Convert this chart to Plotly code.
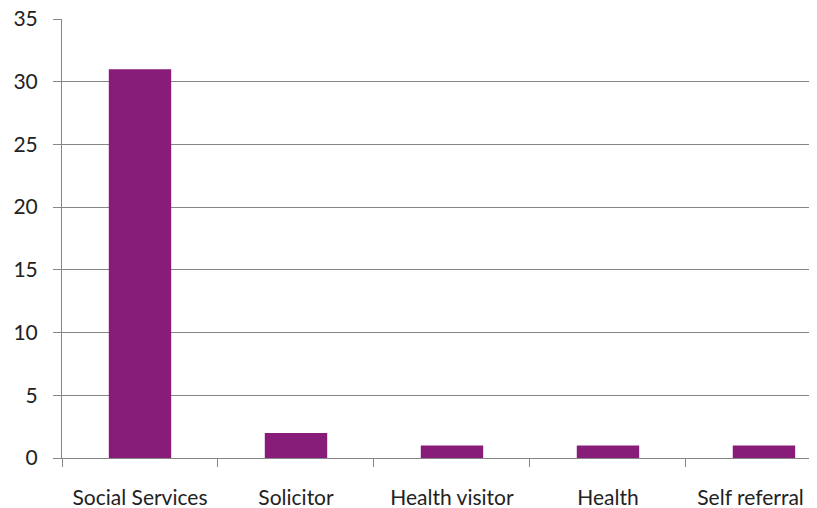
import plotly.graph_objects as go

categories = ["Social Services", "Solicitor", "Health visitor", "Health", "Self referral"]
values = [31, 2, 1, 1, 1]
# tick labels: same texts; the last is padded with no-break spaces so it stays on screen
tick_labels = ["Social Services", "Solicitor", "Health visitor", "Health", "Self referral\u00a0\u00a0\u00a0\u00a0\u00a0"]

fig = go.Figure(go.Bar(
    x=categories, y=values,
    marker=dict(color="#881C79", line=dict(width=0)),
    width=0.4,
))

axis_col = "#868686"
font = dict(family="Lato, Open Sans, sans-serif", size=21, color="#222222")

# the page body has an 8px default margin; margins compensate so the plot area
# lands where the reference has it
fig.update_layout(
    width=817, height=508,
    margin=dict(l=54, r=8, t=11, b=58),
    plot_bgcolor="white", paper_bgcolor="white",
    showlegend=False,
    font=font,
)
fig.update_xaxes(
    range=[-0.5, 4.34],
    tickmode="array", tickvals=categories, ticktext=tick_labels,
    showgrid=False,
    showline=True, linecolor=axis_col, linewidth=1,
    ticks="outside", tickson="boundaries", ticklen=8, tickcolor=axis_col,
    ticklabelstandoff=21,
    ticklabeloverflow="allow",
    tickfont=font,
    automargin=False,
)
fig.update_yaxes(
    range=[0, 35], dtick=5,
    showgrid=True, gridcolor=axis_col, gridwidth=1,
    showline=True, linecolor=axis_col, linewidth=1,
    ticks="outside", ticklen=8, tickcolor=axis_col,
    ticklabelstandoff=11,
    ticklabeloverflow="allow",
    zeroline=False,
    tickfont=font,
    automargin=False,
)

fig.write_html("out.html")
